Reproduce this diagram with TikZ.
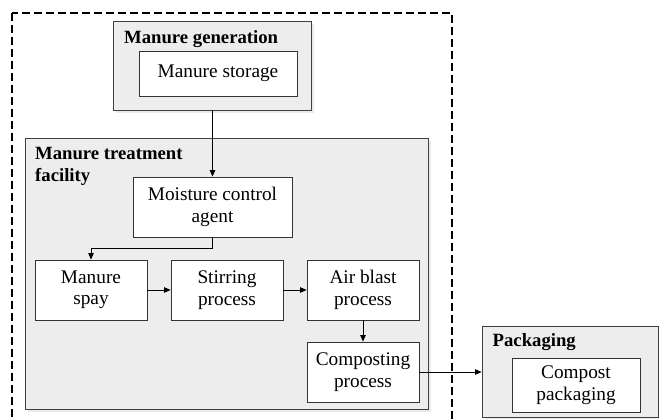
\documentclass[tikz,border=0pt]{standalone}
\usepackage{fontspec}
\setmainfont{Liberation Serif}
\usetikzlibrary{arrows.meta,shadows}

\tikzset{
  groupbox/.style={draw=black!75, line width=0.8pt, fill=black!7,
    drop shadow={shadow xshift=3pt, shadow yshift=-3pt, fill=black!10, opacity=0.8}},
  stepbox/.style={draw=black!80, line width=0.8pt, fill=white, align=center,
    inner sep=2pt, font=\fontsize{19.3}{21.5}\selectfont},
  grouptitle/.style={inner sep=0pt, align=left,
    font=\fontsize{18.7}{21.5}\selectfont\bfseries},
  flow/.style={draw=black, line width=0.8pt, -{Triangle[length=6.5pt,width=5.5pt]}},
  boundary/.style={draw=black, line width=2.7pt, dash pattern=on 8pt off 4pt}
}

\begin{document}
\begin{tikzpicture}[x=1pt,y=-1pt]
  \useasboundingbox (0,0) rectangle (659,419);
  \clip (0,0) rectangle (659,419);

  % farm boundary
  \draw[boundary] (12,13) rectangle (452,440);

  % manure generation
  \node[groupbox, minimum width=198pt, minimum height=89pt] (gen) at (212,65.5) {};
  \node[grouptitle, anchor=base west] (gentitle) at (124,44) {Manure generation};
  \node[stepbox, minimum width=158pt, minimum height=45pt] (store) at (218,73.5) {Manure storage};

  % treatment facility
  \node[groupbox, minimum width=403pt, minimum height=271pt] (fac) at (226.5,273.5) {};
  \node[grouptitle, anchor=north west] (factitle) at (35,147.5) {Manure treatment\\facility};

  \node[stepbox, minimum width=159pt, minimum height=60pt] (moist) at (212.5,207) {Moisture control\\agent};
  \node[stepbox, minimum width=112pt, minimum height=60pt] (spay) at (91,290) {Manure\\spay};
  \node[stepbox, minimum width=112pt, minimum height=60pt] (stir) at (227,290) {Stirring\\process};
  \node[stepbox, minimum width=112pt, minimum height=60pt] (air) at (363,290) {Air blast\\process};
  \node[stepbox, minimum width=112pt, minimum height=60pt] (comp) at (363,372) {Composting\\process};

  % packaging
  \node[groupbox, minimum width=176pt, minimum height=91pt] (pack) at (570,371.5) {};
  \node[grouptitle, anchor=base west] (packtitle) at (492.5,346.5) {Packaging};
  \node[stepbox, minimum width=128pt, minimum height=54pt] (cpack) at (576,385) {Compost\\packaging};

  % flow
  \draw[flow] (gen.south -| moist.north) -- (moist.north);
  \draw[flow] (moist.south) -- ++(0,11) -| (spay.north);
  \draw[flow] (spay) -- (stir);
  \draw[flow] (stir) -- (air);
  \draw[flow] (air) -- (comp);
  \draw[flow] (comp.east) -- (comp.east -| pack.west);
\end{tikzpicture}
\end{document}
